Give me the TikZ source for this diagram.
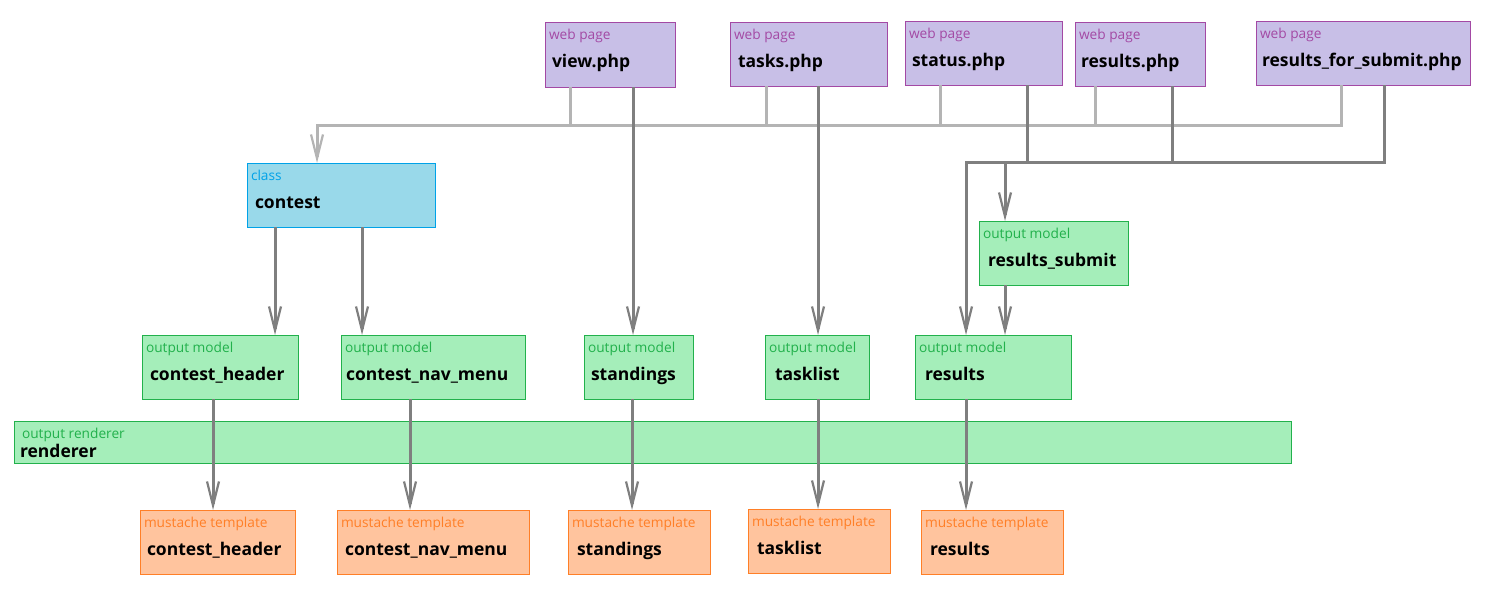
\documentclass[tikz,border=0pt]{standalone}
\usepackage{fontspec}
\setmainfont{Open Sans}
\usetikzlibrary{arrows.meta}
\definecolor{webfill}{HTML}{C8BFE7}
\definecolor{webdraw}{HTML}{A349A4}
\definecolor{clsfill}{HTML}{99D9EA}
\definecolor{clsdraw}{HTML}{00A2E8}
\definecolor{omfill}{HTML}{A5EEBA}
\definecolor{omdraw}{HTML}{22B14C}
\definecolor{musfill}{HTML}{FFC49E}
\definecolor{musdraw}{HTML}{FF7F27}
\definecolor{darkline}{HTML}{7F7F7F}
\definecolor{lightline}{HTML}{B4B4B4}
\tikzset{
  boxbase/.style={rectangle, inner sep=0pt, outer sep=0pt, line width=1pt},
  web/.style={boxbase, fill=webfill, draw=webdraw},
  cls/.style={boxbase, fill=clsfill, draw=clsdraw},
  om/.style={boxbase, fill=omfill, draw=omdraw},
  mus/.style={boxbase, fill=musfill, draw=musdraw},
  labbase/.style={inner sep=0pt, outer sep=0pt, font=\fontsize{13.7}{15}\selectfont},
  weblab/.style={labbase, text=webdraw},
  clslab/.style={labbase, text=clsdraw},
  omlab/.style={labbase, text=omdraw},
  muslab/.style={labbase, text=musdraw},
  maintext/.style={inner sep=0pt, outer sep=0pt, font=\fontsize{17.5}{20}\selectfont\bfseries},
  dline/.style={draw=darkline, line width=3pt},
  lline/.style={draw=lightline, line width=3pt},
  arr/.style={-{Straight Barb[length=24pt,width=12pt,line width=2.2pt]}},
}
\newcommand{\dbox}[9]{%
  \node[#2, minimum width=#5pt, minimum height=#6pt, anchor=north west] (#1) at (#3,#4) {};
  \node[#2lab, anchor=base west] (#1-lab) at ([xshift=4pt,yshift=-17pt]#1.north west) {#8};
  \node[maintext, anchor=base west] (#1-txt) at ([xshift=#7pt,yshift=-45pt]#1.north west) {#9};
}
\begin{document}
\begin{tikzpicture}[x=1pt,y=-1pt]
\path[use as bounding box] (0,0) rectangle (1487,605);
% web pages
\dbox{view}{web}{545}{22}{130}{65}{7}{web page}{view.php}
\dbox{tasks}{web}{730}{22}{157}{64}{8}{web page}{tasks.php}
\dbox{status}{web}{905}{21}{157}{64}{7}{web page}{status.php}
\dbox{resphp}{web}{1075}{22}{130}{64}{6}{web page}{results.php}
\dbox{rfs}{web}{1256}{21}{214}{64}{6}{web page}{results\_for\_submit.php}
% class
\dbox{contest}{cls}{247}{163}{188}{64}{8}{class}{contest}
% output models
\dbox{rsub}{om}{979}{221}{149}{64}{9}{output model}{results\_submit}
\dbox{omch}{om}{142}{335}{156}{64}{8}{output model}{contest\_header}
\dbox{omnav}{om}{341}{335}{184}{64}{5}{output model}{contest\_nav\_menu}
\dbox{omst}{om}{584}{335}{109}{64}{7}{output model}{standings}
\dbox{omtl}{om}{765}{335}{104}{64}{10}{output model}{tasklist}
\dbox{omres}{om}{915}{335}{156}{64}{10}{output model}{results}
% renderer
\node[om, minimum width=1277pt, minimum height=42pt, anchor=north west] (rend) at (14,421) {};
\node[omlab, anchor=base west] (rend-lab) at ([xshift=8pt,yshift=-17pt]rend.north west) {output renderer};
\node[maintext, anchor=base west] (rend-txt) at ([xshift=6pt,yshift=-36pt]rend.north west) {renderer};
% mustache templates
\dbox{much}{mus}{140}{510}{155}{64}{7}{mustache template}{contest\_header}
\dbox{munav}{mus}{337}{510}{192}{64}{8}{mustache template}{contest\_nav\_menu}
\dbox{must}{mus}{568}{510}{142}{64}{9}{mustache template}{standings}
\dbox{mutl}{mus}{748}{509}{142}{64}{9}{mustache template}{tasklist}
\dbox{mures}{mus}{921}{510}{142}{64}{9}{mustache template}{results}
% junction coordinates
\coordinate (lgc) at (317,125);
\coordinate (lgv) at (570,125);
\coordinate (lgt) at (766,125);
\coordinate (lgs) at (940,125);
\coordinate (lgr) at (1095,125);
\coordinate (lgf) at (1341,125);
\coordinate (dkv) at (633,0);
\coordinate (dkt) at (818,0);
\coordinate (dks) at (1027,162);
\coordinate (dkr) at (1172,162);
\coordinate (dkf) at (1384,162);
\coordinate (dkl) at (966,162);
\coordinate (dkm) at (1005,162);
\coordinate (cx1) at (275,0);
\coordinate (cx2) at (362,0);
\coordinate (rx) at (1005,0);
\coordinate (mx1) at (213,0);
\coordinate (mx2) at (410,0);
\coordinate (mx3) at (632,0);
\coordinate (mx4) at (818,0);
\coordinate (mx5) at (966,0);
% light grey connectors
\draw[lline] (view.south -| lgv) -- (lgv);
\draw[lline] (tasks.south -| lgt) -- (lgt);
\draw[lline] (status.south -| lgs) -- (lgs);
\draw[lline] (resphp.south -| lgr) -- (lgr);
\draw[lline, arr] (rfs.south -| lgf) -- (lgf) -- (lgc) -- (contest.north -| lgc);
% dark connectors from pages
\draw[dline, arr] (view.south -| dkv) -- (omst.north -| dkv);
\draw[dline, arr] (tasks.south -| dkt) -- (omtl.north -| dkt);
\draw[dline] (status.south -| dks) -- (dks);
\draw[dline] (resphp.south -| dkr) -- (dkr);
\draw[dline, arr] (rfs.south -| dkf) -- (dkf) -- (dkl) -- (omres.north -| dkl);
\draw[dline, arr] (dkm) -- (rsub.north -| dkm);
\draw[dline, arr] (rsub.south -| rx) -- (omres.north -| rx);
% class to output models
\draw[dline, arr] (contest.south -| cx1) -- (omch.north -| cx1);
\draw[dline, arr] (contest.south -| cx2) -- (omnav.north -| cx2);
% output models to templates
\draw[dline, arr] (omch.south -| mx1) -- (much.north -| mx1);
\draw[dline, arr] (omnav.south -| mx2) -- (munav.north -| mx2);
\draw[dline, arr] (omst.south -| mx3) -- (must.north -| mx3);
\draw[dline, arr] (omtl.south -| mx4) -- (mutl.north -| mx4);
\draw[dline, arr] (omres.south -| mx5) -- (mures.north -| mx5);
\end{tikzpicture}
\end{document}
